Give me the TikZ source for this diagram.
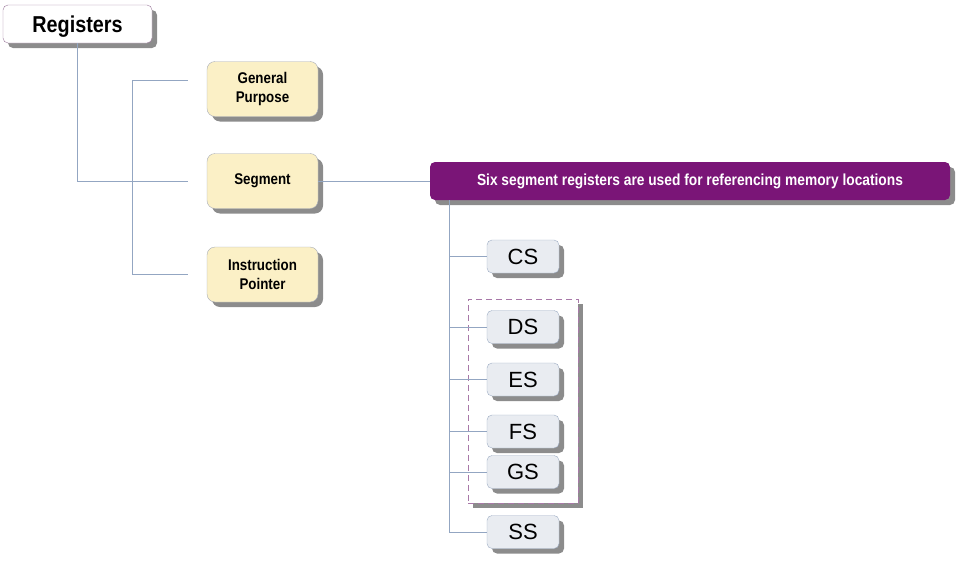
\documentclass[tikz,border=0pt]{standalone}
\usepackage{fontspec}
\setmainfont{Liberation Sans}
\newfontfamily\narrowfont[FakeStretch=0.86]{Liberation Sans}
\usetikzlibrary{shadows}
\definecolor{linec}{HTML}{93A6C2}
\definecolor{yfill}{HTML}{FBF0C6}
\definecolor{ydraw}{HTML}{A8ADB8}
\definecolor{gfill}{HTML}{E9ECF1}
\definecolor{gdraw}{HTML}{9EADC4}
\definecolor{purp}{HTML}{7A1577}
\definecolor{dashc}{HTML}{A878A8}
\definecolor{shad}{HTML}{808080}
\tikzset{
  shd/.style={drop shadow={shadow xshift=5pt,shadow yshift=-5pt,fill=shad,opacity=0.9}},
  topbox/.style={draw=dashc!70!gray,fill=white,rounded corners=5pt,minimum width=149pt,minimum height=38pt,text depth=0pt,shd,font=\narrowfont\bfseries\fontsize{23}{26}\selectfont},
  ybox/.style={draw=ydraw,fill=yfill,rounded corners=8pt,minimum width=111pt,minimum height=55pt,shd,align=center,font=\narrowfont\bfseries\fontsize{15.5}{19.5}\selectfont},
  pbox/.style={fill=purp,rounded corners=5pt,minimum width=520pt,minimum height=38pt,shd,text=white,font=\narrowfont\bfseries\fontsize{16}{19}\selectfont},
  gbox/.style={draw=gdraw,fill=gfill,rounded corners=5pt,minimum width=72pt,minimum height=33pt,shd,font=\fontsize{22}{24}\selectfont},
  grpbox/.style={draw=dashc,dash pattern=on 6pt off 4pt,line width=0.9pt,fill=white,minimum width=110pt,minimum height=204pt,shd},
  conn/.style={draw=linec,line width=0.8pt}
}
\begin{document}
\begin{tikzpicture}[x=1pt,y=-1pt]
\useasboundingbox (0,0) rectangle (969,562);
% nodes
\node[topbox] (reg) at (77.5,24) {Registers};
\node[ybox] (gp) at (262.5,89) {General\\Purpose};
\node[ybox] (seg) at (262.5,181) {Segment};
\node[ybox] (ip) at (262.5,274.5) {Instruction\\Pointer};
\node[pbox] (six) at (690,181) {Six segment registers are used for referencing memory locations};
\node[grpbox] (grp) at (523,401) {};
\node[gbox] (cs) at (523,256.5) {CS};
\node[gbox] (ds) at (523,327) {DS};
\node[gbox] (es) at (523,379.5) {ES};
\node[gbox] (fs) at (523,431.5) {FS};
\node[gbox] (gs) at (523,472) {GS};
\node[gbox] (ss) at (523,532) {SS};
% connectors
\draw[conn] (reg.south) |- ([xshift=-19pt]seg.west);
\draw[conn] ([xshift=-19pt,yshift=9pt]gp.west) -| ([xshift=-74pt]ip.west) -- ([xshift=-19pt]ip.west);
\draw[conn] (seg.east) -- (six.west);
\coordinate (t) at ([xshift=20pt]six.south west);
\draw[conn] (t) |- (ss.west);
\foreach \n in {cs,ds,es,fs,gs}{\draw[conn] (\n.west) -- (\n.west -| t);}
\end{tikzpicture}
\end{document}
